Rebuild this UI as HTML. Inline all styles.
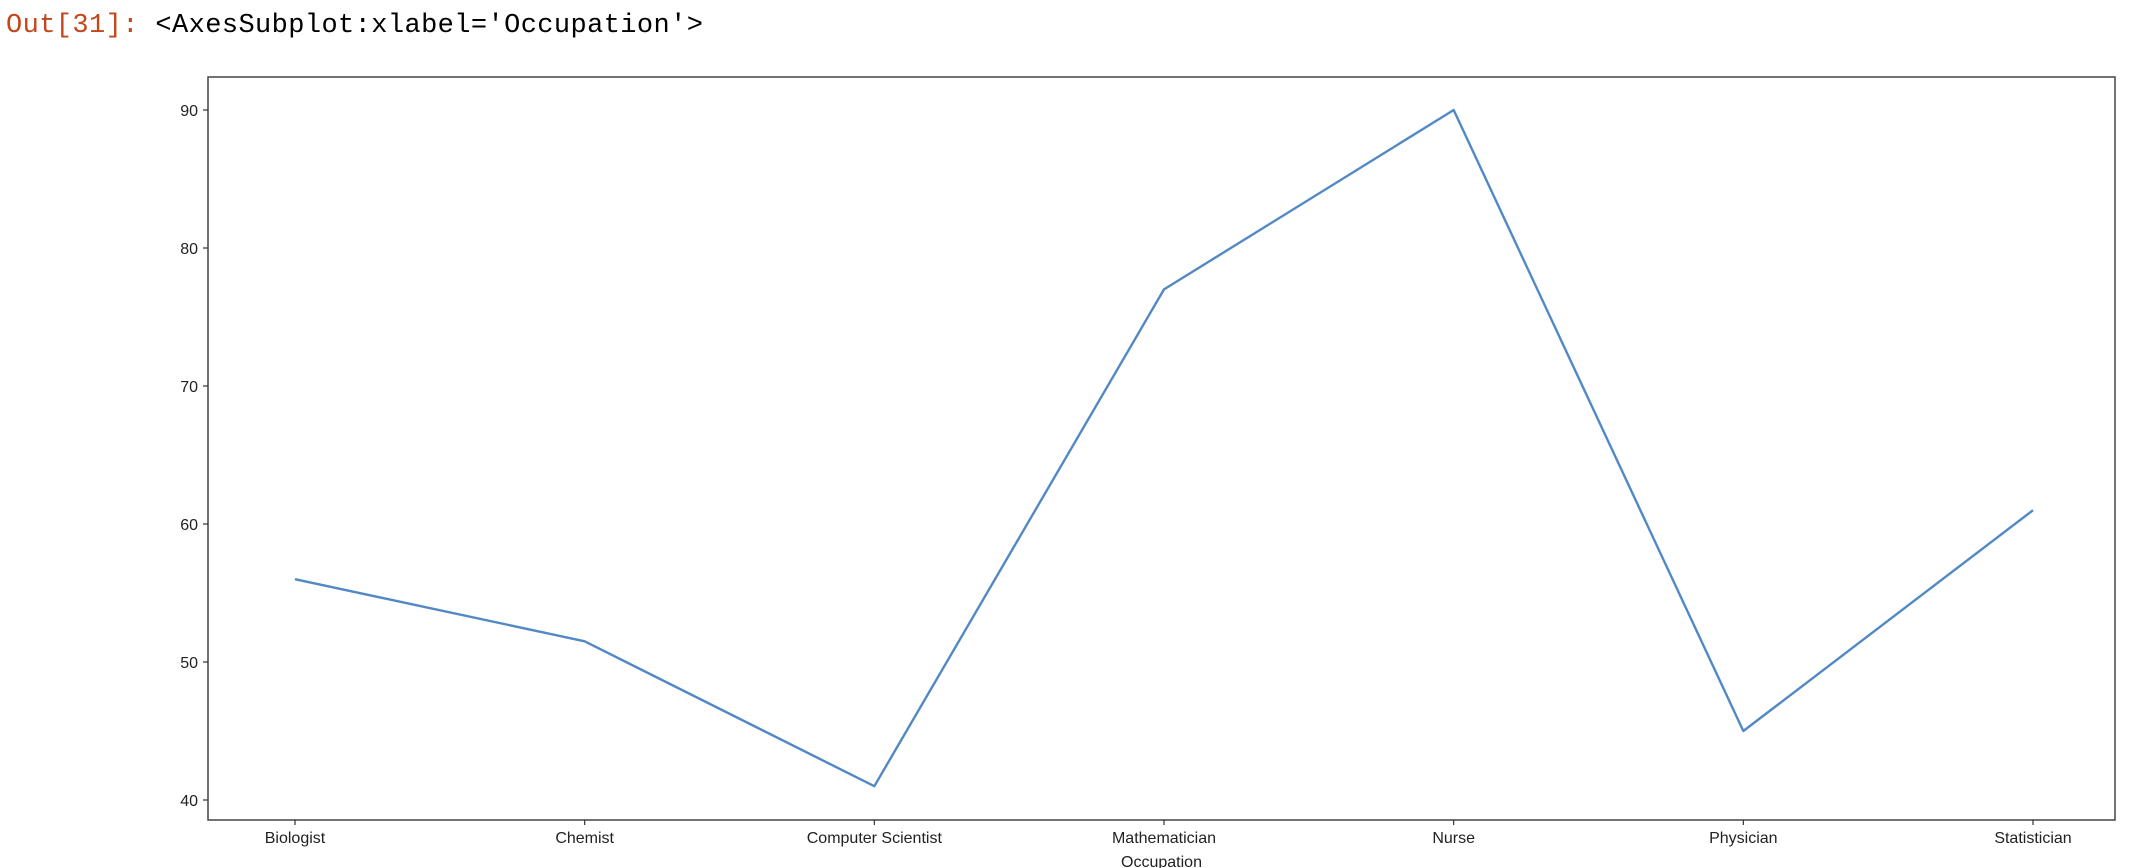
<!DOCTYPE html>
<html><head><meta charset="utf-8"><style>
body{margin:0;background:#fff;width:2130px;height:868px;overflow:hidden}
.out{position:absolute;left:6px;top:11px;font-family:"Liberation Mono",monospace;font-size:27px;white-space:pre;letter-spacing:0.4px}
</style></head><body>
<div class="out"><span style="color:#c4461c">Out[31]:</span> &lt;AxesSubplot:xlabel='Occupation'&gt;</div>
<svg id="chart" width="2130" height="868" style="position:absolute;left:0;top:0" font-family="Liberation Sans, DejaVu Sans, sans-serif"></svg>
<script>
const categories=["Biologist","Chemist","Computer Scientist","Mathematician","Nurse","Physician","Statistician"];
const values=[56,51.5,41,77,90,45,61];
const yTicks=[40,50,60,70,80,90];
const svg=document.getElementById('chart');
const NS='http://www.w3.org/2000/svg';
const L=208,R=2115,T=77,B=820;
const x0=295,xStep=(2033-295)/6;
function xs(i){return x0+i*xStep;}
function ys(v){return 800-(v-40)*13.8;}
function mk(t,a){const e=document.createElementNS(NS,t);for(const k in a)e.setAttribute(k,a[k]);svg.appendChild(e);return e;}
const frame=mk('rect',{x:L,y:T,width:R-L,height:B-T,fill:'none',stroke:'#444','stroke-width':1.5});


yTicks.forEach(v=>{
  const tk=mk('line',{x1:L-5,x2:L,y1:ys(v),y2:ys(v),stroke:'#333','stroke-width':1.2});
  
  
  const t=mk('text',{x:L-10,y:ys(v)+6,'text-anchor':'end','font-size':16,fill:'#222'});
  t.textContent=v;
  
  
});
categories.forEach((c,i)=>{
  const tk=mk('line',{x1:xs(i),x2:xs(i),y1:B,y2:B+5,stroke:'#333','stroke-width':1.2});
  
  
  const t=mk('text',{x:xs(i),y:B+23,'text-anchor':'middle','font-size':16,fill:'#222'});
  t.textContent=c;
  
  
});
const xl=mk('text',{x:(L+R)/2,y:867,'text-anchor':'middle','font-size':16,fill:'#222'});
xl.textContent='Occupation';


const pl=mk('polyline',{points:values.map((v,i)=>xs(i)+','+ys(v)).join(' '),fill:'none',stroke:'#5289c4','stroke-width':2.4,'stroke-linejoin':'round'});


</script>
</body></html>
